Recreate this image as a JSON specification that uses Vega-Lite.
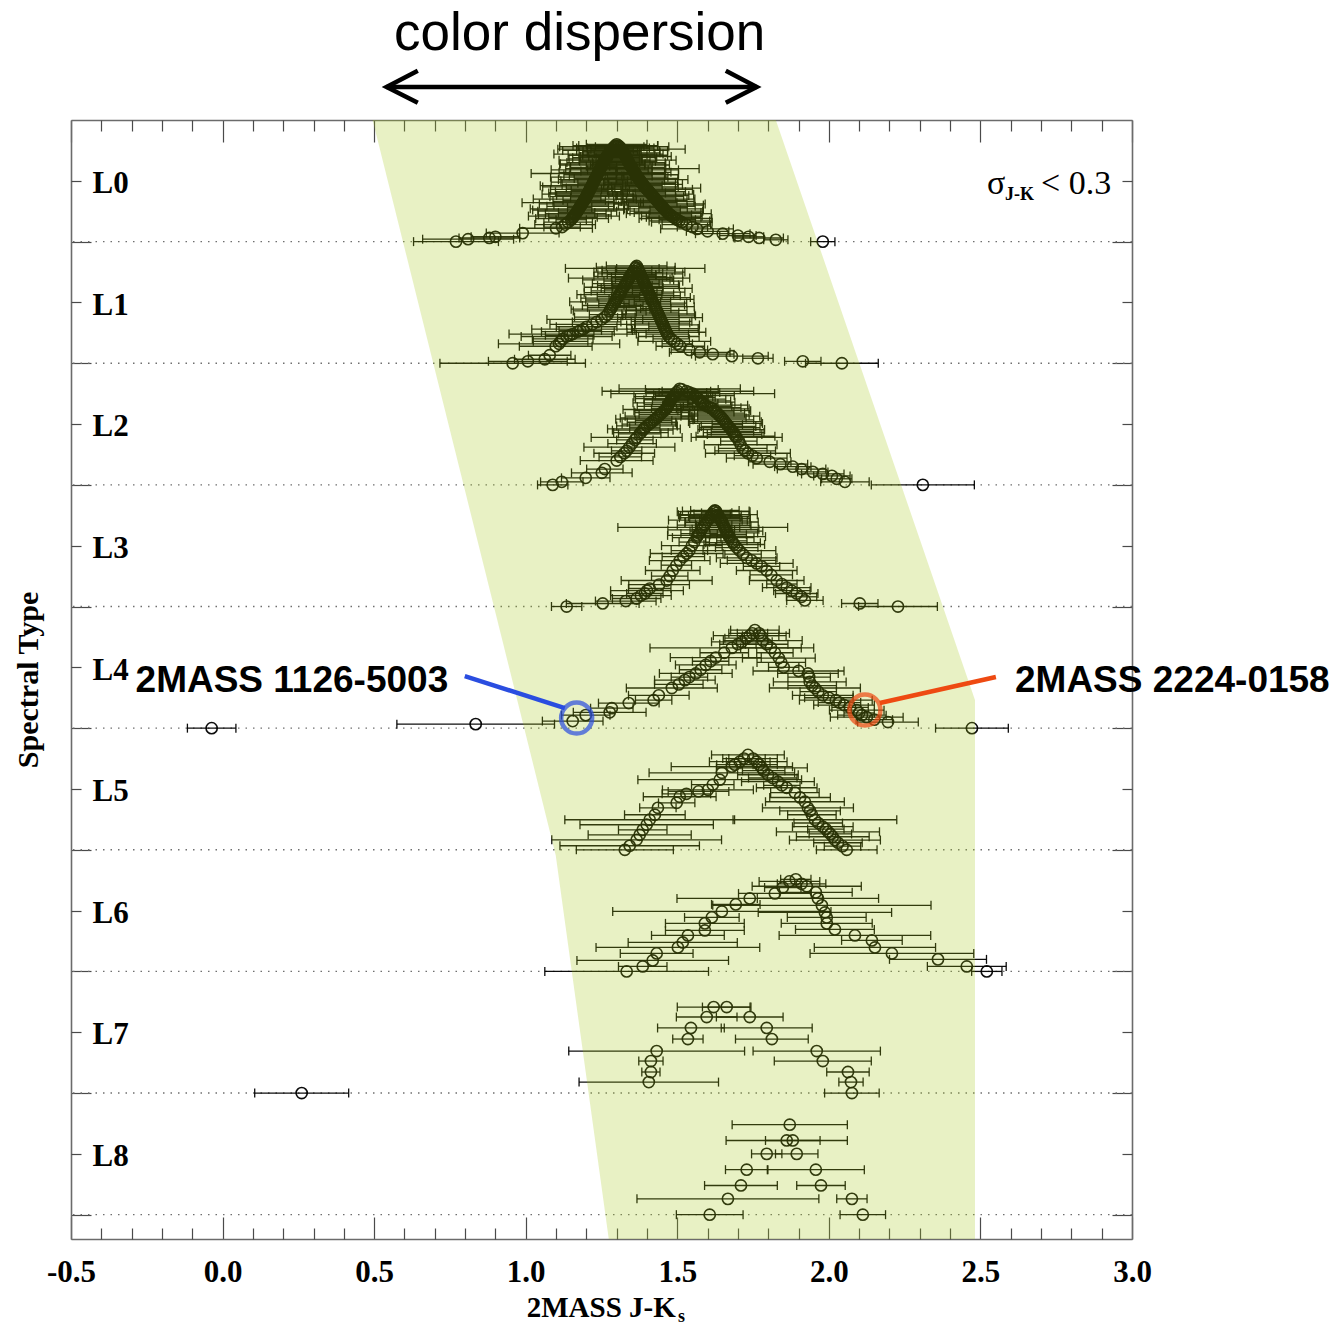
{
  "$schema": "https://vega.github.io/schema/vega-lite/v6.json",
  "width": 1061,
  "height": 1119,
  "autosize": "none",
  "padding": {"left": 71, "top": 120, "right": 207, "bottom": 87},
  "background": "white",
  "config": {
    "view": {"stroke": null},
    "axis": {"grid": false, "domainColor": "#6b6b6b", "domainWidth": 1.6, "tickColor": "#4a4a4a", "tickWidth": 1.2}
  },
  "datasets": {
    "stars": [
      {"x":0.77,"y":8.0,"e":0.14},{"x":0.81,"y":8.02,"e":0.15},{"x":0.88,"y":8.03,"e":0.1},{"x":0.9,"y":8.04,"e":0.08},
      {"x":0.99,"y":8.07,"e":0.12},{"x":1.1,"y":8.11,"e":0.12},{"x":1.12,"y":8.12,"e":0.06},{"x":1.13,"y":8.14,"e":0.1},
      {"x":1.14,"y":8.16,"e":0.08},{"x":1.15,"y":8.18,"e":0.05},{"x":1.156,"y":8.2,"e":0.08},{"x":1.162,"y":8.22,"e":0.12},
      {"x":1.168,"y":8.24,"e":0.06},{"x":1.173,"y":8.26,"e":0.15},{"x":1.178,"y":8.28,"e":0.04},{"x":1.183,"y":8.3,"e":0.09},
      {"x":1.188,"y":8.32,"e":0.2},{"x":1.193,"y":8.34,"e":0.07},{"x":1.198,"y":8.36,"e":0.05},{"x":1.202,"y":8.38,"e":0.1},
      {"x":1.206,"y":8.4,"e":0.13},{"x":1.21,"y":8.42,"e":0.06},{"x":1.214,"y":8.44,"e":0.08},{"x":1.218,"y":8.46,"e":0.17},
      {"x":1.222,"y":8.48,"e":0.05},{"x":1.226,"y":8.5,"e":0.11},{"x":1.23,"y":8.52,"e":0.07},{"x":1.234,"y":8.54,"e":0.09},
      {"x":1.238,"y":8.56,"e":0.22},{"x":1.242,"y":8.58,"e":0.06},{"x":1.246,"y":8.6,"e":0.1},{"x":1.25,"y":8.62,"e":0.05},
      {"x":1.254,"y":8.64,"e":0.14},{"x":1.258,"y":8.66,"e":0.08},{"x":1.263,"y":8.68,"e":0.12},{"x":1.268,"y":8.7,"e":0.06},
      {"x":1.273,"y":8.72,"e":0.18},{"x":1.279,"y":8.74,"e":0.09},{"x":1.285,"y":8.76,"e":0.07},{"x":1.292,"y":8.78,"e":0.18},
      {"x":1.3,"y":8.8,"e":0.1},{"x":1.31,"y":8.78,"e":0.08},{"x":1.316,"y":8.76,"e":0.21},{"x":1.321,"y":8.74,"e":0.06},
      {"x":1.326,"y":8.72,"e":0.1},{"x":1.33,"y":8.7,"e":0.15},{"x":1.334,"y":8.68,"e":0.05},{"x":1.338,"y":8.66,"e":0.09},
      {"x":1.342,"y":8.64,"e":0.12},{"x":1.347,"y":8.62,"e":0.07},{"x":1.352,"y":8.6,"e":0.22},{"x":1.357,"y":8.58,"e":0.06},
      {"x":1.362,"y":8.56,"e":0.1},{"x":1.367,"y":8.54,"e":0.05},{"x":1.372,"y":8.52,"e":0.13},{"x":1.378,"y":8.5,"e":0.08},
      {"x":1.384,"y":8.48,"e":0.11},{"x":1.39,"y":8.46,"e":0.06},{"x":1.397,"y":8.44,"e":0.18},{"x":1.404,"y":8.42,"e":0.09},
      {"x":1.411,"y":8.4,"e":0.05},{"x":1.418,"y":8.38,"e":0.12},{"x":1.425,"y":8.36,"e":0.07},{"x":1.432,"y":8.34,"e":0.1},
      {"x":1.439,"y":8.32,"e":0.06},{"x":1.446,"y":8.3,"e":0.14},{"x":1.453,"y":8.28,"e":0.08},{"x":1.46,"y":8.26,"e":0.05},
      {"x":1.468,"y":8.24,"e":0.11},{"x":1.477,"y":8.22,"e":0.07},{"x":1.488,"y":8.2,"e":0.09},{"x":1.5,"y":8.18,"e":0.06},
      {"x":1.515,"y":8.16,"e":0.1},{"x":1.53,"y":8.14,"e":0.08},{"x":1.55,"y":8.12,"e":0.05},{"x":1.565,"y":8.105,"e":0.12},
      {"x":1.6,"y":8.085,"e":0.07},{"x":1.65,"y":8.065,"e":0.09},{"x":1.7,"y":8.05,"e":0.06},{"x":1.735,"y":8.04,"e":0.05},
      {"x":1.77,"y":8.03,"e":0.08},{"x":1.825,"y":8.015,"e":0.04},{"x":1.98,"y":8.0,"e":0.04},
      {"x":1.153,"y":8.19,"e":0.12},{"x":1.159,"y":8.21,"e":0.15},{"x":1.165,"y":8.23,"e":0.1},{"x":1.17,"y":8.25,"e":0.13},
      {"x":1.175,"y":8.27,"e":0.16},{"x":1.18,"y":8.29,"e":0.11},{"x":1.185,"y":8.31,"e":0.14},{"x":1.19,"y":8.33,"e":0.1},
      {"x":1.195,"y":8.35,"e":0.17},{"x":1.2,"y":8.37,"e":0.12},{"x":1.204,"y":8.39,"e":0.15},{"x":1.208,"y":8.41,"e":0.11},
      {"x":1.212,"y":8.43,"e":0.13},{"x":1.216,"y":8.45,"e":0.16},{"x":1.22,"y":8.47,"e":0.1},{"x":1.224,"y":8.49,"e":0.14},
      {"x":1.228,"y":8.51,"e":0.12},{"x":1.232,"y":8.53,"e":0.15},{"x":1.236,"y":8.55,"e":0.11},{"x":1.24,"y":8.57,"e":0.13},
      {"x":1.244,"y":8.59,"e":0.16},{"x":1.248,"y":8.61,"e":0.1},{"x":1.252,"y":8.63,"e":0.14},{"x":1.256,"y":8.65,"e":0.12},
      {"x":1.26,"y":8.67,"e":0.15},{"x":1.265,"y":8.69,"e":0.11},{"x":1.27,"y":8.71,"e":0.13},{"x":1.276,"y":8.73,"e":0.1},
      {"x":1.282,"y":8.75,"e":0.16},{"x":1.288,"y":8.77,"e":0.12},{"x":1.296,"y":8.79,"e":0.14},
      {"x":1.305,"y":8.79,"e":0.13},{"x":1.313,"y":8.77,"e":0.11},{"x":1.318,"y":8.75,"e":0.15},{"x":1.323,"y":8.73,"e":0.12},
      {"x":1.328,"y":8.71,"e":0.14},{"x":1.332,"y":8.69,"e":0.1},{"x":1.336,"y":8.67,"e":0.16},{"x":1.34,"y":8.65,"e":0.12},
      {"x":1.344,"y":8.63,"e":0.13},{"x":1.349,"y":8.61,"e":0.11},{"x":1.354,"y":8.59,"e":0.15},{"x":1.359,"y":8.57,"e":0.12},
      {"x":1.364,"y":8.55,"e":0.14},{"x":1.369,"y":8.53,"e":0.1},{"x":1.375,"y":8.51,"e":0.16},{"x":1.381,"y":8.49,"e":0.12},
      {"x":1.387,"y":8.47,"e":0.13},{"x":1.393,"y":8.45,"e":0.11},{"x":1.4,"y":8.43,"e":0.15},{"x":1.407,"y":8.41,"e":0.12},
      {"x":1.414,"y":8.39,"e":0.14},{"x":1.421,"y":8.37,"e":0.1},{"x":1.428,"y":8.35,"e":0.13},{"x":1.435,"y":8.33,"e":0.12},
      {"x":1.442,"y":8.31,"e":0.15},{"x":1.449,"y":8.29,"e":0.11},{"x":1.456,"y":8.27,"e":0.13},{"x":1.464,"y":8.25,"e":0.12},
      {"x":1.472,"y":8.23,"e":0.14},{"x":1.482,"y":8.21,"e":0.1},{"x":1.494,"y":8.19,"e":0.12},{"x":1.507,"y":8.17,"e":0.1},

      {"x":0.957,"y":7.0,"e":0.24},{"x":1.007,"y":7.016,"e":0.13},{"x":1.063,"y":7.033,"e":0.1},{"x":1.079,"y":7.066,"e":0.07},
      {"x":1.099,"y":7.14,"e":0.12},{"x":1.11,"y":7.16,"e":0.2},{"x":1.115,"y":7.18,"e":0.09},{"x":1.122,"y":7.2,"e":0.1},
      {"x":1.135,"y":7.22,"e":0.15},{"x":1.145,"y":7.23,"e":0.08},{"x":1.155,"y":7.24,"e":0.21},{"x":1.172,"y":7.26,"e":0.12},
      {"x":1.18,"y":7.27,"e":0.07},{"x":1.19,"y":7.28,"e":0.17},{"x":1.201,"y":7.3,"e":0.1},{"x":1.22,"y":7.32,"e":0.14},
      {"x":1.234,"y":7.34,"e":0.08},{"x":1.25,"y":7.36,"e":0.18},{"x":1.261,"y":7.38,"e":0.1},{"x":1.27,"y":7.4,"e":0.06},
      {"x":1.277,"y":7.43,"e":0.12},{"x":1.284,"y":7.46,"e":0.08},{"x":1.291,"y":7.49,"e":0.05},{"x":1.298,"y":7.52,"e":0.1},
      {"x":1.306,"y":7.55,"e":0.07},{"x":1.313,"y":7.58,"e":0.12},{"x":1.32,"y":7.61,"e":0.06},{"x":1.327,"y":7.64,"e":0.09},
      {"x":1.334,"y":7.67,"e":0.05},{"x":1.341,"y":7.7,"e":0.2},{"x":1.349,"y":7.73,"e":0.08},{"x":1.356,"y":7.76,"e":0.06},
      {"x":1.361,"y":7.78,"e":0.23},{"x":1.366,"y":7.8,"e":0.1},{"x":1.37,"y":7.78,"e":0.07},{"x":1.375,"y":7.75,"e":0.15},
      {"x":1.38,"y":7.72,"e":0.05},{"x":1.386,"y":7.69,"e":0.09},{"x":1.391,"y":7.66,"e":0.06},{"x":1.397,"y":7.63,"e":0.11},
      {"x":1.402,"y":7.6,"e":0.05},{"x":1.408,"y":7.57,"e":0.08},{"x":1.413,"y":7.54,"e":0.13},{"x":1.418,"y":7.51,"e":0.06},
      {"x":1.424,"y":7.48,"e":0.1},{"x":1.429,"y":7.45,"e":0.05},{"x":1.435,"y":7.42,"e":0.07},{"x":1.44,"y":7.39,"e":0.12},
      {"x":1.446,"y":7.36,"e":0.06},{"x":1.451,"y":7.33,"e":0.09},{"x":1.456,"y":7.3,"e":0.05},{"x":1.462,"y":7.27,"e":0.11},
      {"x":1.467,"y":7.24,"e":0.07},{"x":1.48,"y":7.2,"e":0.06},{"x":1.49,"y":7.18,"e":0.12},{"x":1.5,"y":7.16,"e":0.05},
      {"x":1.51,"y":7.14,"e":0.08},{"x":1.54,"y":7.11,"e":0.06},{"x":1.574,"y":7.09,"e":0.1},{"x":1.617,"y":7.075,"e":0.07},
      {"x":1.68,"y":7.058,"e":0.12},{"x":1.766,"y":7.041,"e":0.05},{"x":1.914,"y":7.016,"e":0.06},{"x":2.043,"y":7.0,"e":0.12},
      {"x":1.28,"y":7.445,"e":0.13},{"x":1.287,"y":7.475,"e":0.1},{"x":1.295,"y":7.505,"e":0.15},{"x":1.302,"y":7.535,"e":0.12},
      {"x":1.309,"y":7.565,"e":0.14},{"x":1.316,"y":7.595,"e":0.1},{"x":1.323,"y":7.625,"e":0.13},{"x":1.33,"y":7.655,"e":0.11},
      {"x":1.338,"y":7.685,"e":0.15},{"x":1.345,"y":7.715,"e":0.12},{"x":1.352,"y":7.745,"e":0.1},{"x":1.363,"y":7.79,"e":0.13},
      {"x":1.372,"y":7.765,"e":0.12},{"x":1.378,"y":7.735,"e":0.14},{"x":1.383,"y":7.705,"e":0.1},{"x":1.388,"y":7.675,"e":0.13},
      {"x":1.394,"y":7.645,"e":0.11},{"x":1.399,"y":7.615,"e":0.15},{"x":1.405,"y":7.585,"e":0.12},{"x":1.41,"y":7.555,"e":0.1},
      {"x":1.415,"y":7.525,"e":0.14},{"x":1.421,"y":7.495,"e":0.11},{"x":1.426,"y":7.465,"e":0.13},{"x":1.432,"y":7.435,"e":0.1},
      {"x":1.437,"y":7.405,"e":0.12},{"x":1.443,"y":7.375,"e":0.14},{"x":1.448,"y":7.345,"e":0.1},{"x":1.453,"y":7.315,"e":0.12},
      {"x":1.459,"y":7.285,"e":0.11},{"x":1.464,"y":7.255,"e":0.13},{"x":1.472,"y":7.22,"e":0.1},

      {"x":1.089,"y":6.0,"e":0.05},{"x":1.119,"y":6.025,"e":0.07},{"x":1.198,"y":6.058,"e":0.08},{"x":1.251,"y":6.099,"e":0.1},
      {"x":1.261,"y":6.13,"e":0.06},{"x":1.3,"y":6.2,"e":0.12},{"x":1.312,"y":6.23,"e":0.07},{"x":1.325,"y":6.26,"e":0.1},
      {"x":1.333,"y":6.28,"e":0.05},{"x":1.342,"y":6.31,"e":0.15},{"x":1.351,"y":6.34,"e":0.08},{"x":1.36,"y":6.37,"e":0.06},
      {"x":1.366,"y":6.39,"e":0.15},{"x":1.376,"y":6.42,"e":0.07},{"x":1.386,"y":6.45,"e":0.1},{"x":1.393,"y":6.47,"e":0.05},
      {"x":1.408,"y":6.5,"e":0.09},{"x":1.422,"y":6.53,"e":0.06},{"x":1.432,"y":6.55,"e":0.12},{"x":1.444,"y":6.58,"e":0.07},
      {"x":1.457,"y":6.61,"e":0.1},{"x":1.465,"y":6.63,"e":0.05},{"x":1.471,"y":6.66,"e":0.08},{"x":1.478,"y":6.69,"e":0.06},
      {"x":1.482,"y":6.71,"e":0.12},{"x":1.492,"y":6.74,"e":0.07},{"x":1.502,"y":6.77,"e":0.25},{"x":1.508,"y":6.79,"e":0.2},
      {"x":1.53,"y":6.77,"e":0.08},{"x":1.551,"y":6.75,"e":0.27},{"x":1.565,"y":6.72,"e":0.06},{"x":1.576,"y":6.69,"e":0.1},
      {"x":1.584,"y":6.67,"e":0.05},{"x":1.6,"y":6.645,"e":0.08},{"x":1.617,"y":6.625,"e":0.12},{"x":1.627,"y":6.6,"e":0.06},
      {"x":1.637,"y":6.575,"e":0.1},{"x":1.647,"y":6.55,"e":0.08},{"x":1.657,"y":6.52,"e":0.12},{"x":1.665,"y":6.495,"e":0.05},
      {"x":1.673,"y":6.47,"e":0.1},{"x":1.682,"y":6.44,"e":0.07},{"x":1.689,"y":6.415,"e":0.09},{"x":1.696,"y":6.39,"e":0.15},
      {"x":1.703,"y":6.36,"e":0.06},{"x":1.709,"y":6.33,"e":0.12},{"x":1.716,"y":6.3,"e":0.08},{"x":1.724,"y":6.28,"e":0.1},
      {"x":1.733,"y":6.26,"e":0.14},{"x":1.748,"y":6.24,"e":0.06},{"x":1.762,"y":6.22,"e":0.1},{"x":1.805,"y":6.19,"e":0.07},
      {"x":1.84,"y":6.17,"e":0.09},{"x":1.881,"y":6.15,"e":0.06},{"x":1.91,"y":6.13,"e":0.08},{"x":1.947,"y":6.107,"e":0.05},
      {"x":1.98,"y":6.09,"e":0.07},{"x":2.01,"y":6.074,"e":0.06},{"x":2.026,"y":6.05,"e":0.05},{"x":2.053,"y":6.025,"e":0.08},
      {"x":2.31,"y":6.0,"e":0.17},
      {"x":1.497,"y":6.76,"e":0.1},{"x":1.487,"y":6.725,"e":0.13},{"x":1.48,"y":6.7,"e":0.09},{"x":1.474,"y":6.675,"e":0.12},
      {"x":1.468,"y":6.645,"e":0.1},{"x":1.461,"y":6.62,"e":0.14},{"x":1.45,"y":6.595,"e":0.09},{"x":1.438,"y":6.565,"e":0.11},
      {"x":1.427,"y":6.54,"e":0.13},{"x":1.415,"y":6.515,"e":0.08},{"x":1.4,"y":6.485,"e":0.1},{"x":1.39,"y":6.46,"e":0.12},
      {"x":1.38,"y":6.43,"e":0.09},
      {"x":1.515,"y":6.785,"e":0.12},{"x":1.54,"y":6.76,"e":0.1},{"x":1.558,"y":6.735,"e":0.13},{"x":1.57,"y":6.705,"e":0.09},
      {"x":1.58,"y":6.68,"e":0.11},{"x":1.592,"y":6.655,"e":0.14},{"x":1.61,"y":6.635,"e":0.1},{"x":1.622,"y":6.61,"e":0.12},
      {"x":1.632,"y":6.59,"e":0.09},{"x":1.642,"y":6.565,"e":0.13},{"x":1.652,"y":6.535,"e":0.1},{"x":1.661,"y":6.505,"e":0.12},
      {"x":1.669,"y":6.48,"e":0.09},{"x":1.678,"y":6.455,"e":0.11},{"x":1.686,"y":6.43,"e":0.1},{"x":1.692,"y":6.4,"e":0.13},

      {"x":1.135,"y":5.0,"e":0.05},{"x":1.254,"y":5.025,"e":0.12},{"x":1.33,"y":5.045,"e":0.1},{"x":1.366,"y":5.066,"e":0.08},
      {"x":1.38,"y":5.09,"e":0.1},{"x":1.393,"y":5.107,"e":0.06},{"x":1.4,"y":5.13,"e":0.12},{"x":1.409,"y":5.148,"e":0.07},
      {"x":1.44,"y":5.18,"e":0.1},{"x":1.465,"y":5.214,"e":0.15},{"x":1.475,"y":5.25,"e":0.06},{"x":1.485,"y":5.296,"e":0.09},
      {"x":1.497,"y":5.34,"e":0.05},{"x":1.508,"y":5.378,"e":0.1},{"x":1.52,"y":5.41,"e":0.07},{"x":1.531,"y":5.436,"e":0.12},
      {"x":1.54,"y":5.46,"e":0.06},{"x":1.548,"y":5.5,"e":0.1},{"x":1.556,"y":5.53,"e":0.05},{"x":1.564,"y":5.567,"e":0.08},
      {"x":1.572,"y":5.6,"e":0.06},{"x":1.584,"y":5.65,"e":0.28},{"x":1.595,"y":5.69,"e":0.07},{"x":1.607,"y":5.73,"e":0.1},
      {"x":1.615,"y":5.76,"e":0.06},{"x":1.624,"y":5.79,"e":0.08},{"x":1.63,"y":5.77,"e":0.05},{"x":1.637,"y":5.74,"e":0.1},
      {"x":1.644,"y":5.71,"e":0.07},{"x":1.65,"y":5.68,"e":0.09},{"x":1.656,"y":5.65,"e":0.05},{"x":1.662,"y":5.62,"e":0.12},
      {"x":1.668,"y":5.59,"e":0.06},{"x":1.673,"y":5.567,"e":0.08},{"x":1.68,"y":5.54,"e":0.05},{"x":1.688,"y":5.51,"e":0.1},
      {"x":1.696,"y":5.485,"e":0.07},{"x":1.705,"y":5.46,"e":0.12},{"x":1.717,"y":5.43,"e":0.06},{"x":1.729,"y":5.4,"e":0.1},
      {"x":1.745,"y":5.38,"e":0.08},{"x":1.762,"y":5.354,"e":0.12},{"x":1.778,"y":5.33,"e":0.06},{"x":1.795,"y":5.296,"e":0.1},
      {"x":1.81,"y":5.26,"e":0.07},{"x":1.828,"y":5.214,"e":0.09},{"x":1.845,"y":5.185,"e":0.05},{"x":1.861,"y":5.156,"e":0.08},
      {"x":1.878,"y":5.13,"e":0.06},{"x":1.894,"y":5.107,"e":0.07},{"x":1.91,"y":5.08,"e":0.05},{"x":1.921,"y":5.05,"e":0.06},
      {"x":2.102,"y":5.025,"e":0.06},{"x":2.228,"y":5.0,"e":0.13},
      {"x":1.62,"y":5.78,"e":0.12},{"x":1.611,"y":5.75,"e":0.1},{"x":1.601,"y":5.71,"e":0.13},{"x":1.59,"y":5.67,"e":0.09},
      {"x":1.579,"y":5.63,"e":0.11},{"x":1.568,"y":5.585,"e":0.1},
      {"x":1.627,"y":5.785,"e":0.11},{"x":1.634,"y":5.755,"e":0.13},{"x":1.641,"y":5.725,"e":0.1},{"x":1.647,"y":5.695,"e":0.12},
      {"x":1.653,"y":5.665,"e":0.09},{"x":1.659,"y":5.635,"e":0.11},{"x":1.665,"y":5.605,"e":0.1},{"x":1.671,"y":5.575,"e":0.12},
      {"x":1.684,"y":5.525,"e":0.09},

      {"x":-0.036,"y":4.0,"e":0.08},{"x":0.835,"y":4.033,"e":0.26},{"x":1.155,"y":4.058,"e":0.1},{"x":1.198,"y":4.107,"e":0.08},
      {"x":1.277,"y":4.13,"e":0.12},{"x":1.284,"y":4.164,"e":0.07},{"x":1.34,"y":4.206,"e":0.1},{"x":1.422,"y":4.23,"e":0.06},
      {"x":1.439,"y":4.27,"e":0.1},{"x":1.482,"y":4.33,"e":0.15},{"x":1.505,"y":4.36,"e":0.08},{"x":1.525,"y":4.395,"e":0.1},
      {"x":1.54,"y":4.42,"e":0.06},{"x":1.561,"y":4.45,"e":0.12},{"x":1.577,"y":4.48,"e":0.07},{"x":1.594,"y":4.52,"e":0.1},
      {"x":1.61,"y":4.55,"e":0.06},{"x":1.627,"y":4.58,"e":0.15},{"x":1.655,"y":4.62,"e":0.08},{"x":1.68,"y":4.66,"e":0.27},
      {"x":1.7,"y":4.69,"e":0.06},{"x":1.713,"y":4.71,"e":0.1},{"x":1.727,"y":4.74,"e":0.07},{"x":1.739,"y":4.76,"e":0.12},
      {"x":1.748,"y":4.78,"e":0.05},{"x":1.756,"y":4.806,"e":0.08},{"x":1.77,"y":4.78,"e":0.1},{"x":1.775,"y":4.76,"e":0.06},
      {"x":1.782,"y":4.72,"e":0.13},{"x":1.795,"y":4.69,"e":0.07},{"x":1.809,"y":4.66,"e":0.1},{"x":1.822,"y":4.62,"e":0.06},
      {"x":1.835,"y":4.576,"e":0.12},{"x":1.843,"y":4.54,"e":0.08},{"x":1.851,"y":4.5,"e":0.05},{"x":1.9,"y":4.47,"e":0.15},
      {"x":1.931,"y":4.45,"e":0.1},{"x":1.935,"y":4.42,"e":0.07},{"x":1.937,"y":4.38,"e":0.12},{"x":1.945,"y":4.35,"e":0.08},
      {"x":1.954,"y":4.33,"e":0.15},{"x":1.965,"y":4.3,"e":0.06},{"x":1.98,"y":4.27,"e":0.1},{"x":2.0,"y":4.25,"e":0.08},
      {"x":2.023,"y":4.23,"e":0.12},{"x":2.035,"y":4.21,"e":0.07},{"x":2.05,"y":4.19,"e":0.1},{"x":2.07,"y":4.17,"e":0.06},
      {"x":2.092,"y":4.148,"e":0.09},{"x":2.1,"y":4.125,"e":0.05},{"x":2.109,"y":4.107,"e":0.08},{"x":2.125,"y":4.09,"e":0.12},
      {"x":2.15,"y":4.07,"e":0.06},{"x":2.195,"y":4.05,"e":0.1},{"x":2.472,"y":4.0,"e":0.12},

      {"x":1.327,"y":3.0,"e":0.16},{"x":1.343,"y":3.033,"e":0.23},{"x":1.366,"y":3.082,"e":0.28},{"x":1.376,"y":3.123,"e":0.17},
      {"x":1.386,"y":3.164,"e":0.08},{"x":1.399,"y":3.206,"e":0.22},{"x":1.409,"y":3.247,"e":0.28},{"x":1.426,"y":3.288,"e":0.1},
      {"x":1.436,"y":3.345,"e":0.06},{"x":1.498,"y":3.386,"e":0.06},{"x":1.508,"y":3.436,"e":0.12},{"x":1.53,"y":3.46,"e":0.08},
      {"x":1.57,"y":3.48,"e":0.1},{"x":1.601,"y":3.493,"e":0.15},{"x":1.617,"y":3.535,"e":0.07},{"x":1.64,"y":3.576,"e":0.27},
      {"x":1.647,"y":3.633,"e":0.24},{"x":1.68,"y":3.683,"e":0.2},{"x":1.69,"y":3.7,"e":0.06},{"x":1.706,"y":3.724,"e":0.1},
      {"x":1.72,"y":3.75,"e":0.07},{"x":1.733,"y":3.78,"e":0.12},{"x":1.75,"y":3.75,"e":0.08},{"x":1.762,"y":3.724,"e":0.1},
      {"x":1.77,"y":3.7,"e":0.06},{"x":1.779,"y":3.674,"e":0.15},{"x":1.785,"y":3.65,"e":0.07},{"x":1.799,"y":3.617,"e":0.1},
      {"x":1.815,"y":3.59,"e":0.08},{"x":1.832,"y":3.56,"e":0.12},{"x":1.845,"y":3.53,"e":0.06},{"x":1.861,"y":3.51,"e":0.1},
      {"x":1.888,"y":3.47,"e":0.08},{"x":1.905,"y":3.43,"e":0.1},{"x":1.921,"y":3.395,"e":0.13},{"x":1.931,"y":3.345,"e":0.15},
      {"x":1.938,"y":3.32,"e":0.1},{"x":1.944,"y":3.288,"e":0.08},{"x":1.954,"y":3.247,"e":0.27},{"x":1.965,"y":3.22,"e":0.08},
      {"x":1.98,"y":3.19,"e":0.1},{"x":1.99,"y":3.17,"e":0.06},{"x":1.997,"y":3.148,"e":0.17},{"x":2.005,"y":3.13,"e":0.07},
      {"x":2.013,"y":3.107,"e":0.12},{"x":2.02,"y":3.08,"e":0.15},{"x":2.03,"y":3.058,"e":0.08},{"x":2.045,"y":3.03,"e":0.06},
      {"x":2.059,"y":3.0,"e":0.1},

      {"x":1.333,"y":2.0,"e":0.27},{"x":1.386,"y":2.041,"e":0.08},{"x":1.419,"y":2.09,"e":0.25},{"x":1.432,"y":2.148,"e":0.12},
      {"x":1.502,"y":2.197,"e":0.27},{"x":1.518,"y":2.238,"e":0.18},{"x":1.535,"y":2.296,"e":0.12},{"x":1.591,"y":2.337,"e":0.13},
      {"x":1.591,"y":2.395,"e":0.13},{"x":1.614,"y":2.444,"e":0.09},{"x":1.647,"y":2.493,"e":0.36},{"x":1.693,"y":2.551,"e":0.08},
      {"x":1.739,"y":2.6,"e":0.24},{"x":1.822,"y":2.641,"e":0.12},{"x":1.848,"y":2.69,"e":0.06},{"x":1.87,"y":2.74,"e":0.1},
      {"x":1.891,"y":2.757,"e":0.05},{"x":1.91,"y":2.72,"e":0.08},{"x":1.927,"y":2.7,"e":0.18},{"x":1.957,"y":2.65,"e":0.12},
      {"x":1.964,"y":2.6,"e":0.2},{"x":1.977,"y":2.543,"e":0.36},{"x":1.987,"y":2.485,"e":0.22},{"x":1.993,"y":2.444,"e":0.13},
      {"x":1.993,"y":2.395,"e":0.15},{"x":2.02,"y":2.345,"e":0.13},{"x":2.086,"y":2.296,"e":0.25},{"x":2.142,"y":2.255,"e":0.1},
      {"x":2.152,"y":2.197,"e":0.2},{"x":2.208,"y":2.148,"e":0.27},{"x":2.36,"y":2.099,"e":0.16},{"x":2.455,"y":2.041,"e":0.13},
      {"x":2.521,"y":2.0,"e":0.05},

      {"x":1.62,"y":1.707,"e":0.12},{"x":1.663,"y":1.707,"e":0.08},{"x":1.597,"y":1.625,"e":0.1},{"x":1.739,"y":1.625,"e":0.11},
      {"x":1.545,"y":1.535,"e":0.11},{"x":1.795,"y":1.535,"e":0.15},{"x":1.535,"y":1.444,"e":0.05},{"x":1.812,"y":1.444,"e":0.12},
      {"x":1.432,"y":1.345,"e":0.29},{"x":1.96,"y":1.345,"e":0.21},{"x":1.413,"y":1.263,"e":0.04},{"x":1.98,"y":1.263,"e":0.16},
      {"x":1.413,"y":1.173,"e":0.03},{"x":2.063,"y":1.173,"e":0.07},{"x":1.406,"y":1.09,"e":0.23},{"x":2.073,"y":1.09,"e":0.04},
      {"x":2.076,"y":1.0,"e":0.09},{"x":0.261,"y":1.0,"e":0.155},

      {"x":1.871,"y":0.74,"e":0.19},{"x":1.861,"y":0.61,"e":0.2},{"x":1.881,"y":0.61,"e":0.09},{"x":1.795,"y":0.5,"e":0.05},
      {"x":1.894,"y":0.5,"e":0.07},{"x":1.729,"y":0.37,"e":0.07},{"x":1.957,"y":0.37,"e":0.16},{"x":1.71,"y":0.24,"e":0.12},
      {"x":1.974,"y":0.24,"e":0.08},{"x":1.667,"y":0.13,"e":0.3},{"x":2.076,"y":0.13,"e":0.05},{"x":1.607,"y":0.0,"e":0.11},
      {"x":2.112,"y":0.0,"e":0.075}
    ],
    "baselines": [{"y":0},{"y":1},{"y":2},{"y":3},{"y":4},{"y":5},{"y":6},{"y":7},{"y":8}],
    "band": [
      {"y":9.0,"xl":0.495,"xr":1.825},
      {"y":4.231,"xl":0.972,"xr":2.482},
      {"y":2.956,"xl":1.099,"xr":2.482},
      {"y":-0.2,"xl":1.274,"xr":2.482}
    ],
    "types": [
      {"x":-0.429,"y":8.4,"text":"L0"},{"x":-0.429,"y":7.4,"text":"L1"},{"x":-0.429,"y":6.4,"text":"L2"},
      {"x":-0.429,"y":5.4,"text":"L3"},{"x":-0.429,"y":4.4,"text":"L4"},{"x":-0.429,"y":3.4,"text":"L5"},
      {"x":-0.429,"y":2.4,"text":"L6"},{"x":-0.429,"y":1.4,"text":"L7"},{"x":-0.429,"y":0.4,"text":"L8"}
    ],
    "arrow": [
      {"seg":"shaft","o":0,"x":0.541,"y":9.272},{"seg":"shaft","o":1,"x":1.762,"y":9.272},
      {"seg":"left","o":0,"x":0.644,"y":9.404},{"seg":"left","o":1,"x":0.541,"y":9.272},{"seg":"left","o":2,"x":0.644,"y":9.141},
      {"seg":"right","o":0,"x":1.66,"y":9.404},{"seg":"right","o":1,"x":1.762,"y":9.272},{"seg":"right","o":2,"x":1.66,"y":9.141}
    ],
    "pointers": [
      {"star":"2MASS 1126-5003","o":0,"x":0.799,"y":4.428},{"star":"2MASS 1126-5003","o":1,"x":1.129,"y":4.165},
      {"star":"2MASS 2224-0158","o":0,"x":2.168,"y":4.207},{"star":"2MASS 2224-0158","o":1,"x":2.551,"y":4.421}
    ],
    "marked": [
      {"star":"2MASS 1126-5003","x":1.168,"y":4.083,"lx":-0.287},
      {"star":"2MASS 2224-0158","x":2.119,"y":4.149,"lx":2.614}
    ]
  },
  "layer": [
    {
      "data": {"name": "baselines"},
      "mark": {"type": "rule", "color": "#6f6f6f", "strokeWidth": 1.4, "strokeDash": [1.5, 6]},
      "encoding": {
        "y": {"field": "y", "type": "quantitative", "scale": {"domain": [-0.2, 9.0], "nice": false, "zero": false},
              "axis": {"orient": "left", "values": [0,1,2,3,4,5,6,7,8], "labels": false, "tickSize": -20, "domain": true, "title": null}}
      }
    },
    {
      "data": {"name": "stars"},
      "mark": {"type": "errorbar", "ticks": {"size": 9}, "color": "#000000", "opacity": 0.95, "thickness": 1.3},
      "encoding": {
        "x": {"field": "x", "type": "quantitative", "scale": {"domain": [-0.5, 3.0], "nice": false, "zero": false}, "axis": null},
        "xError": {"field": "e"},
        "y": {"field": "y", "type": "quantitative", "scale": {"domain": [-0.2, 9.0], "nice": false, "zero": false}, "axis": null}
      }
    },
    {
      "data": {"name": "stars"},
      "mark": {"type": "point", "shape": "circle", "filled": false, "color": "#000000", "size": 125, "strokeWidth": 1.6, "opacity": 0.95},
      "encoding": {
        "x": {"field": "x", "type": "quantitative", "scale": {"domain": [-0.5, 3.0], "nice": false, "zero": false},
              "axis": {"orient": "bottom", "values": [-0.5,0,0.5,1,1.5,2,2.5,3], "labels": false, "tickSize": -22, "domain": false, "title": null}},
        "y": {"field": "y", "type": "quantitative", "scale": {"domain": [-0.2, 9.0], "nice": false, "zero": false},
              "axis": {"orient": "right", "values": [0,1,2,3,4,5,6,7,8], "labels": false, "tickSize": -20, "domain": true, "title": null}}
      }
    },
    {
      "data": {"name": "band"},
      "mark": {"type": "area", "orient": "horizontal", "color": "#a2c715", "opacity": 0.25},
      "encoding": {
        "y": {"field": "y", "type": "quantitative", "scale": {"domain": [-0.2, 9.0], "nice": false, "zero": false},
              "axis": {"orient": "left", "values": [0.5,1.5,2.5,3.5,4.5,5.5,6.5,7.5,8.5], "labels": false, "tickSize": -10, "domain": false, "title": null}},
        "x": {"field": "xl", "type": "quantitative", "scale": {"domain": [-0.5, 3.0], "nice": false, "zero": false},
              "axis": {"orient": "bottom", "values": [-0.5,0,0.5,1,1.5,2,2.5,3], "format": ".1f",
                       "labelExpr": "replace(datum.label, '\u2212', '-')",
                       "ticks": false, "tickSize": 0, "labelPadding": 42, "labelBaseline": "alphabetic",
                       "labelFont": "Liberation Serif", "labelFontSize": 31, "labelFontWeight": "bold", "labelColor": "#000000",
                       "labelFlush": false, "labelOverlap": false, "labelBound": false, "domain": true, "title": null}},
        "x2": {"field": "xr"}
      }
    },
    {
      "data": {"name": "types"},
      "mark": {"type": "text", "align": "left", "baseline": "alphabetic", "font": "Liberation Serif", "fontSize": 31, "fontWeight": "bold", "color": "#000000"},
      "encoding": {
        "x": {"field": "x", "type": "quantitative", "scale": {"domain": [-0.5, 3.0], "nice": false, "zero": false},
              "axis": {"orient": "bottom", "values": [-0.4,-0.3,-0.2,-0.1,0.1,0.2,0.3,0.4,0.6,0.7,0.8,0.9,1.1,1.2,1.3,1.4,1.6,1.7,1.8,1.9,2.1,2.2,2.3,2.4,2.6,2.7,2.8,2.9],
                       "labels": false, "tickSize": -11, "domain": false, "title": null}},
        "y": {"field": "y", "type": "quantitative", "scale": {"domain": [-0.2, 9.0], "nice": false, "zero": false},
              "axis": {"orient": "right", "values": [0.5,1.5,2.5,3.5,4.5,5.5,6.5,7.5,8.5], "labels": false, "tickSize": -10, "domain": false, "title": null}},
        "text": {"field": "text", "type": "nominal"}
      }
    },
    {
      "data": {"values": [{"x": 1.178, "y": 9.576, "text": "color dispersion"}]},
      "mark": {"type": "text", "align": "center", "baseline": "alphabetic", "font": "Liberation Sans", "fontSize": 53, "color": "#000000"},
      "encoding": {
        "x": {"field": "x", "type": "quantitative", "scale": {"domain": [-0.5, 3.0], "nice": false, "zero": false},
              "axis": {"orient": "top", "values": [-0.5,0,0.5,1,1.5,2,2.5,3], "labels": false, "tickSize": -22, "domain": true, "title": null}},
        "y": {"field": "y", "type": "quantitative", "scale": {"domain": [-0.2, 9.0], "nice": false, "zero": false}, "axis": null},
        "text": {"field": "text", "type": "nominal"}
      }
    },
    {
      "data": {"name": "arrow"},
      "mark": {"type": "line", "color": "#000000", "strokeWidth": 4.5, "strokeJoin": "miter"},
      "encoding": {
        "x": {"field": "x", "type": "quantitative", "scale": {"domain": [-0.5, 3.0], "nice": false, "zero": false},
              "axis": {"orient": "top", "values": [-0.4,-0.3,-0.2,-0.1,0.1,0.2,0.3,0.4,0.6,0.7,0.8,0.9,1.1,1.2,1.3,1.4,1.6,1.7,1.8,1.9,2.1,2.2,2.3,2.4,2.6,2.7,2.8,2.9],
                       "labels": false, "tickSize": -11, "domain": false, "title": null}},
        "y": {"field": "y", "type": "quantitative", "scale": {"domain": [-0.2, 9.0], "nice": false, "zero": false}, "axis": null},
        "detail": {"field": "seg", "type": "nominal"},
        "order": {"field": "o", "type": "quantitative"}
      }
    },
    {
      "data": {"values": [
        {"x": 2.5215, "y": 8.392, "text": "σ"},
        {"x": 2.7, "y": 8.392, "text": "< 0.3"}
      ]},
      "mark": {"type": "text", "align": "left", "baseline": "alphabetic", "font": "Liberation Serif", "fontSize": 34, "color": "#000000"},
      "encoding": {
        "x": {"field": "x", "type": "quantitative", "scale": {"domain": [-0.5, 3.0], "nice": false, "zero": false}, "axis": null},
        "y": {"field": "y", "type": "quantitative", "scale": {"domain": [-0.2, 9.0], "nice": false, "zero": false}, "axis": null},
        "text": {"field": "text", "type": "nominal"}
      }
    },
    {
      "data": {"values": [
        {"x": 2.581, "y": 8.343, "text": "J-K"},
        {"x": 1.502, "y": -0.884, "text": "s"}
      ]},
      "mark": {"type": "text", "align": "left", "baseline": "alphabetic", "font": "Liberation Serif", "fontSize": 18, "fontWeight": "bold", "color": "#000000"},
      "encoding": {
        "x": {"field": "x", "type": "quantitative", "scale": {"domain": [-0.5, 3.0], "nice": false, "zero": false}, "axis": null},
        "y": {"field": "y", "type": "quantitative", "scale": {"domain": [-0.2, 9.0], "nice": false, "zero": false}, "axis": null},
        "text": {"field": "text", "type": "nominal"}
      }
    },
    {
      "data": {"values": [{"x": 1.495, "y": -0.843, "text": "2MASS J-K"}]},
      "mark": {"type": "text", "align": "right", "baseline": "alphabetic", "font": "Liberation Serif", "fontSize": 29, "fontWeight": "bold", "color": "#000000"},
      "encoding": {
        "x": {"field": "x", "type": "quantitative", "scale": {"domain": [-0.5, 3.0], "nice": false, "zero": false}, "axis": null},
        "y": {"field": "y", "type": "quantitative", "scale": {"domain": [-0.2, 9.0], "nice": false, "zero": false}, "axis": null},
        "text": {"field": "text", "type": "nominal"}
      }
    },
    {
      "data": {"values": [{"x": -0.637, "y": 4.396, "text": "Spectral Type"}]},
      "mark": {"type": "text", "align": "center", "baseline": "middle", "angle": 270, "font": "Liberation Serif", "fontSize": 30, "fontWeight": "bold", "color": "#000000"},
      "encoding": {
        "x": {"field": "x", "type": "quantitative", "scale": {"domain": [-0.5, 3.0], "nice": false, "zero": false}, "axis": null},
        "y": {"field": "y", "type": "quantitative", "scale": {"domain": [-0.2, 9.0], "nice": false, "zero": false}, "axis": null},
        "text": {"field": "text", "type": "nominal"}
      }
    },
    {
      "data": {"name": "pointers"},
      "mark": {"type": "line", "strokeWidth": 4.5},
      "encoding": {
        "x": {"field": "x", "type": "quantitative", "scale": {"domain": [-0.5, 3.0], "nice": false, "zero": false}, "axis": null},
        "y": {"field": "y", "type": "quantitative", "scale": {"domain": [-0.2, 9.0], "nice": false, "zero": false}, "axis": null},
        "color": {"field": "star", "type": "nominal", "scale": {"domain": ["2MASS 1126-5003", "2MASS 2224-0158"], "range": ["#2a4de0", "#ee4a12"]}, "legend": null},
        "order": {"field": "o", "type": "quantitative"}
      }
    },
    {
      "data": {"name": "marked"},
      "mark": {"type": "point", "shape": "circle", "filled": false, "size": 960, "strokeWidth": 4.5},
      "encoding": {
        "x": {"field": "x", "type": "quantitative", "scale": {"domain": [-0.5, 3.0], "nice": false, "zero": false}, "axis": null},
        "y": {"field": "y", "type": "quantitative", "scale": {"domain": [-0.2, 9.0], "nice": false, "zero": false}, "axis": null},
        "color": {"field": "star", "type": "nominal", "scale": {"domain": ["2MASS 1126-5003", "2MASS 2224-0158"], "range": ["#2f55c8", "#e05510"]}, "legend": null}
      }
    },
    {
      "data": {"name": "marked"},
      "mark": {"type": "text", "align": "left", "baseline": "alphabetic", "font": "Liberation Sans", "fontSize": 37, "fontWeight": "bold", "color": "#000000"},
      "encoding": {
        "x": {"field": "lx", "type": "quantitative", "scale": {"domain": [-0.5, 3.0], "nice": false, "zero": false}, "axis": null},
        "y": {"value": 572},
        "text": {"field": "star", "type": "nominal"}
      }
    }
  ],
  "resolve": {"axis": {"x": "independent", "y": "independent"}}
}
